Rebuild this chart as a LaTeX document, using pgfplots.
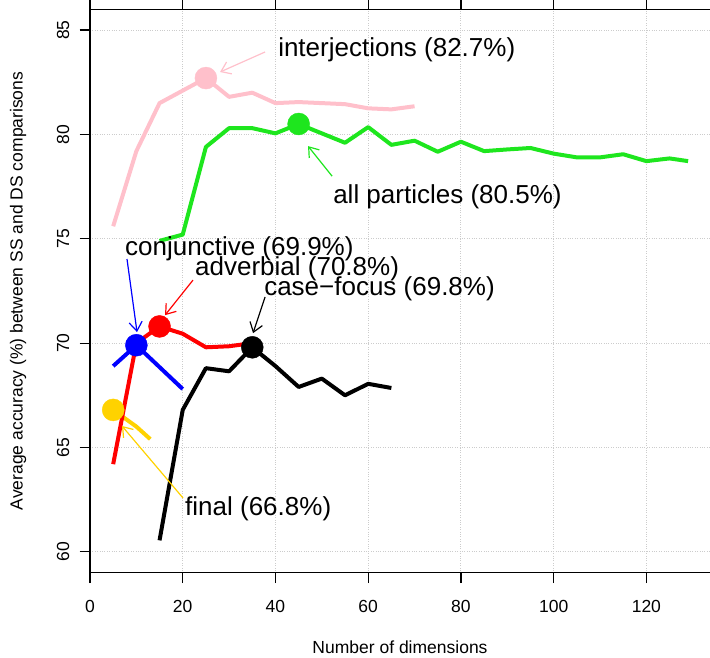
\documentclass[border=0pt]{standalone}
\usepackage{fontspec}
\setmainfont{Liberation Sans}
\usepackage{pgfplots}
\pgfplotsset{compat=1.18}
\usetikzlibrary{arrows.meta}
\definecolor{cpink}{RGB}{255,192,203}
\definecolor{cgreen}{RGB}{30,230,30}
\definecolor{cgold}{RGB}{255,210,0}
\begin{document}
\begin{tikzpicture}
\path[use as bounding box] (0,0) rectangle (710pt,657pt);
\begin{axis}[
  at={(90pt,84.3pt)}, anchor=south west,
  scale only axis, width=625pt, height=563.5pt,
  xmin=0, xmax=134.8, ymin=59, ymax=86,
  xtick={0,20,...,120}, ytick={60,65,...,85},
  tick align=outside, major tick length=10.5pt,
  tick style={black, line width=1.2pt},
  axis line style={black, line width=1.2pt},
  grid=major, major grid style={dotted, gray!40, line width=1pt},
  /pgf/number format/assume math mode=true,
  ticklabel style={font=\fontsize{17.5}{20}\selectfont, inner sep=0pt},
  xticklabel style={anchor=north, yshift=-17pt},
  yticklabel style={xshift=-10pt, rotate=90, anchor=south},
  xlabel={Number of dimensions},
  ylabel={Average accuracy (\%) between SS and DS comparisons},
  label style={font=\fontsize{17.5}{20}\selectfont},
  xlabel style={at={(axis description cs:0.496,-0.1319)}, anchor=center},
  ylabel style={at={(axis description cs:-0.1152,0.5)}, anchor=center},
  clip=false,
]
% final
\addplot[cgold, line width=4pt, line join=round] coordinates {(5,66.8) (10,66.0) (13,65.4)};
\addplot[only marks, mark=*, mark size=11pt, cgold] coordinates {(5,66.8)};
% adverbial
\addplot[red, line width=4pt, line join=round] coordinates {(5,64.2) (10,70.0) (15,70.8) (20,70.45) (25,69.8) (30,69.85) (35,70.0)};
\addplot[only marks, mark=*, mark size=11pt, red] coordinates {(15,70.8)};
% conjunctive
\addplot[blue, line width=4pt, line join=round] coordinates {(5,68.9) (10,69.9) (15,68.85) (20,67.8)};
\addplot[only marks, mark=*, mark size=11pt, blue] coordinates {(10,69.9)};
% case-focus
\addplot[black, line width=4pt, line join=round] coordinates {(15,60.55) (20,66.8) (25,68.8) (30,68.65) (35,69.8) (40,68.9) (45,67.9) (50,68.3) (55,67.5) (60,68.05) (65,67.85)};
\addplot[only marks, mark=*, mark size=11pt, black] coordinates {(35,69.8)};
% all particles
\addplot[cgreen, line width=4pt, line join=round] coordinates {(15,74.9) (20,75.2) (25,79.4) (30,80.3) (35,80.3) (40,80.05) (45,80.5) (50,80.05) (55,79.6) (60,80.35) (65,79.5) (70,79.7) (75,79.17) (80,79.65) (85,79.2) (90,79.28) (95,79.35) (100,79.08) (105,78.9) (110,78.9) (115,79.05) (120,78.72) (125,78.85) (129,78.72)};
\addplot[only marks, mark=*, mark size=11pt, cgreen] coordinates {(45,80.5)};
% interjections
\addplot[cpink, line width=4pt, line join=round] coordinates {(5,75.6) (10,79.2) (15,81.5) (20,82.1) (25,82.7) (30,81.8) (35,82.0) (40,81.5) (45,81.55) (50,81.5) (55,81.45) (60,81.25) (65,81.2) (70,81.35)};
\addplot[only marks, mark=*, mark size=11pt, cpink] coordinates {(25,82.7)};
% annotations
\tikzset{ann/.style={font=\fontsize{26}{30}\selectfont, anchor=base west, inner sep=0pt},
         arr/.style={line width=1.2pt, -{Straight Barb[length=9pt, width=13pt, line width=1.2pt]}}}
\draw[arr, cpink] (axis cs:37.76,83.95) -- (axis cs:28.05,82.99);
\node[ann] at (axis cs:40.56,83.71) {interjections (82.7\%)};
\draw[arr, cgreen] (axis cs:52.21,78.0) -- (axis cs:47.03,79.44);
\node[ann] at (axis cs:52.43,76.71) {all particles (80.5\%)};
\draw[arr, blue] (axis cs:7.98,74.03) -- (axis cs:10.14,70.53);
\node[ann] at (axis cs:7.55,74.22) {conjunctive (69.9\%)};
\draw[arr, red] (axis cs:22.22,73.02) -- (axis cs:16.18,71.34);
\node[ann] at (axis cs:22.65,73.26) {adverbial (70.8\%)};
\draw[arr, black] (axis cs:37.76,72.21) -- (axis cs:35.17,70.48);
\node[ann] at (axis cs:37.54,72.30) {case−focus (69.8\%)};
\draw[arr, cgold] (axis cs:20.06,62.58) -- (axis cs:6.90,66.03);
\node[ann] at (axis cs:20.50,61.76) {final (66.8\%)};
\end{axis}
\end{tikzpicture}
\end{document}
